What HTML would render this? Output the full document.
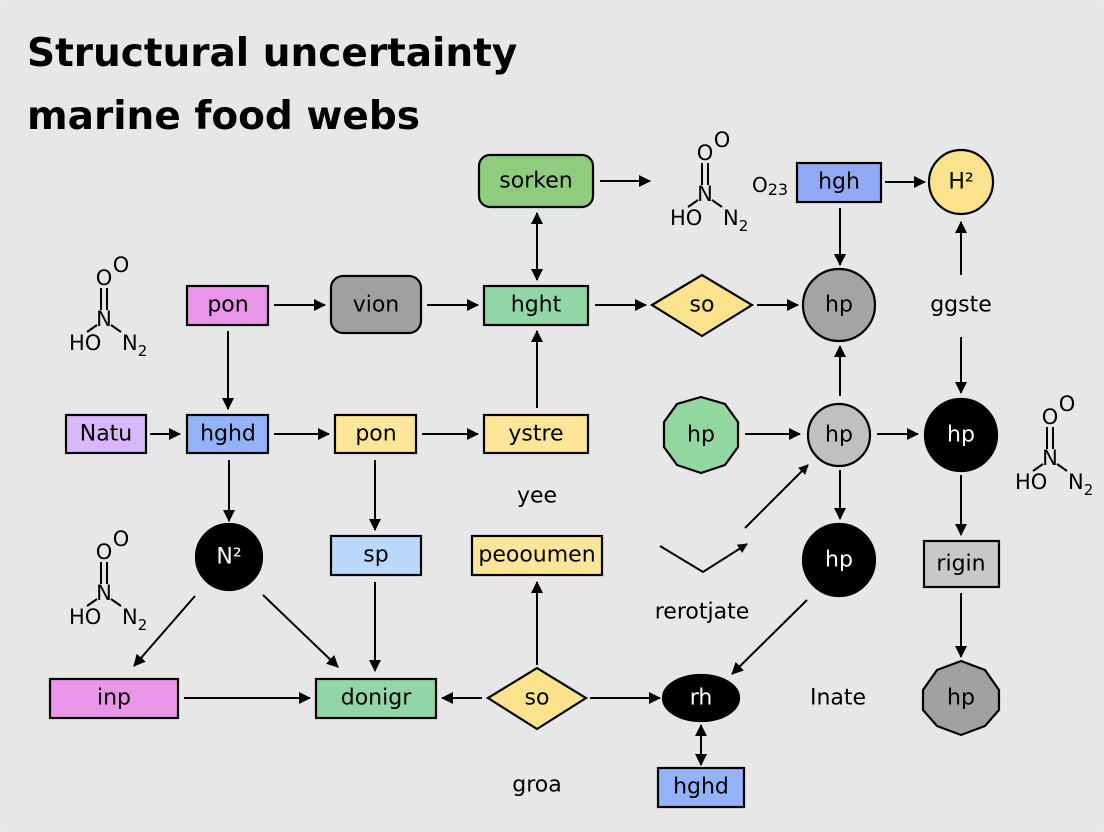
<!DOCTYPE html>
<html><head><meta charset="utf-8"><style>
html,body{margin:0;padding:0;background:#e8e8e9;}
svg{display:block;font-family:"DejaVu Sans","Liberation Sans",sans-serif;}
</style></head><body>
<svg width="1104" height="832" viewBox="0 0 1104 832" xmlns="http://www.w3.org/2000/svg">
<defs>
<marker id="a" markerWidth="10" markerHeight="10" refX="9" refY="5" orient="auto-start-reverse" markerUnits="userSpaceOnUse"><path d="M0,0 L10,5 L0,10 z" fill="#000"/></marker>
<marker id="b" markerWidth="12" markerHeight="12" refX="11" refY="6" orient="auto-start-reverse" markerUnits="userSpaceOnUse"><path d="M0,0 L12,6 L0,12 z" fill="#000"/></marker>
<g id="chem">
<text x="0" y="-33" font-size="21" text-anchor="middle">O</text>
<text x="17" y="-46" font-size="21" text-anchor="middle">O</text>
<line x1="-3" y1="-30" x2="-3" y2="-8" stroke="#000" stroke-width="2"/>
<line x1="3" y1="-30" x2="3" y2="-8" stroke="#000" stroke-width="2"/>
<text x="0" y="8" font-size="21" text-anchor="middle">N</text>
<line x1="-7" y1="7" x2="-17" y2="14" stroke="#000" stroke-width="2"/>
<line x1="7" y1="7" x2="17" y2="14" stroke="#000" stroke-width="2"/>
<text x="-35" y="32" font-size="21">HO</text>
<text x="18" y="32" font-size="21">N<tspan font-size="15" dy="6">2</tspan></text>
</g>
</defs>
<rect x="0" y="0" width="1104" height="832" rx="14" fill="#e7e7e8"/>
<text x="27" y="66" font-size="39" font-weight="bold">Structural uncertainty</text>
<text x="27" y="129" font-size="39" font-weight="bold">marine food webs</text>

<g stroke="#000" stroke-width="2" fill="none">
<line x1="600" y1="181" x2="650" y2="181" marker-end="url(#b)"/>
<line x1="885" y1="182" x2="925" y2="182" marker-end="url(#b)"/>
<line x1="274" y1="305" x2="325" y2="305" marker-end="url(#b)"/>
<line x1="427" y1="305" x2="478" y2="305" marker-end="url(#b)"/>
<line x1="537" y1="213" x2="537" y2="280" marker-start="url(#b)" marker-end="url(#b)"/>
<line x1="595" y1="305" x2="646" y2="305" marker-end="url(#b)"/>
<line x1="757" y1="305" x2="798" y2="305" marker-end="url(#b)"/>
<line x1="840" y1="208" x2="840" y2="265" marker-end="url(#b)"/>
<line x1="961" y1="275" x2="961" y2="222" marker-end="url(#b)"/>
<line x1="961" y1="337" x2="961" y2="393" marker-end="url(#b)"/>
<line x1="150" y1="434" x2="180" y2="434" marker-end="url(#b)"/>
<line x1="228" y1="331" x2="228" y2="409" marker-end="url(#b)"/>
<line x1="274" y1="434" x2="329" y2="434" marker-end="url(#b)"/>
<line x1="422" y1="434" x2="478" y2="434" marker-end="url(#b)"/>
<line x1="537" y1="408" x2="537" y2="331" marker-end="url(#b)"/>
<line x1="745" y1="434" x2="800" y2="434" marker-end="url(#b)"/>
<line x1="840" y1="396" x2="840" y2="346" marker-end="url(#b)"/>
<line x1="877" y1="434" x2="918" y2="434" marker-end="url(#b)"/>
<line x1="229" y1="460" x2="229" y2="521" marker-end="url(#b)"/>
<line x1="375" y1="460" x2="375" y2="530" marker-end="url(#b)"/>
<polyline points="660,546 703,572 747,544" marker-end="url(#a)"/>
<line x1="745" y1="528" x2="808" y2="465" marker-end="url(#a)"/>
<line x1="840" y1="470" x2="840" y2="519" marker-end="url(#b)"/>
<line x1="961" y1="475" x2="961" y2="535" marker-end="url(#b)"/>
<line x1="195" y1="596" x2="134" y2="666" marker-end="url(#b)"/>
<line x1="263" y1="595" x2="338" y2="667" marker-end="url(#b)"/>
<line x1="375" y1="582" x2="375" y2="671" marker-end="url(#b)"/>
<line x1="184" y1="698" x2="310" y2="698" marker-end="url(#b)"/>
<line x1="482" y1="698" x2="442" y2="698" marker-end="url(#b)"/>
<line x1="537" y1="665" x2="537" y2="582" marker-end="url(#b)"/>
<line x1="590" y1="698" x2="660" y2="698" marker-end="url(#b)"/>
<line x1="807" y1="600" x2="732" y2="674" marker-end="url(#b)"/>
<line x1="961" y1="593" x2="961" y2="657" marker-end="url(#b)"/>
<line x1="701" y1="725" x2="701" y2="765" marker-start="url(#b)" marker-end="url(#b)"/>
</g>

<g stroke="#000" stroke-width="2.2">
<rect x="479" y="155" width="114" height="52" rx="11" fill="#8fcc7e"/>
<rect x="797" y="163" width="84" height="39" fill="#90aaf5"/>
<circle cx="961" cy="182" r="32" fill="#fbe38e"/>
<rect x="187" y="286" width="81" height="39" fill="#e996e8"/>
<rect x="331" y="276" width="90" height="57" rx="12" fill="#a0a0a0"/>
<rect x="484" y="286" width="104" height="39" fill="#93d6a6"/>
<polygon points="652,305 702,275 752,305 702,336" fill="#fbe38e"/>
<circle cx="839" cy="305" r="36" fill="#a4a4a4"/>
<rect x="66" y="415" width="80" height="38" fill="#d8b8f8"/>
<rect x="187" y="415" width="81" height="38" fill="#94b2f8"/>
<rect x="335" y="415" width="81" height="38" fill="#fde69a"/>
<rect x="484" y="415" width="104" height="38" fill="#fde69a"/>
<polygon points="701,397 725,404 738,422 738,447 725,465 701,473 677,465 664,447 664,422 677,404" fill="#92d6a0"/>
<circle cx="839" cy="435" r="31" fill="#c0c0c0"/>
<circle cx="961" cy="435" r="36" fill="#000"/>
<ellipse cx="229" cy="557" rx="33" ry="33" fill="#000"/>
<rect x="331" y="536" width="90" height="39" fill="#b9d8fb"/>
<rect x="472" y="536" width="130" height="39" fill="#fde69a"/>
<circle cx="839" cy="560" r="36" fill="#000"/>
<rect x="924" y="541" width="75" height="46" fill="#c8c8c8"/>
<rect x="50" y="679" width="128" height="39" fill="#e996e8"/>
<rect x="316" y="679" width="120" height="39" fill="#93d6a6"/>
<polygon points="488,698 537,668 586,698 537,729" fill="#fbe38e"/>
<ellipse cx="701" cy="698" rx="38" ry="23" fill="#000"/>
<polygon points="961,661 985,670 999,690 999,710 985,726 961,735 937,726 923,710 923,690 937,670" fill="#a0a0a0"/>
<rect x="658" y="768" width="86" height="39" fill="#94b2f8"/>
</g>

<g font-size="22" text-anchor="middle" dominant-baseline="central" fill="#000">
<text x="536" y="181">sorken</text>
<text x="839" y="182">hgh</text>
<text x="961" y="182">H²</text>
<text x="228" y="305">pon</text>
<text x="376" y="305">vion</text>
<text x="536" y="305">hght</text>
<text x="702" y="305">so</text>
<text x="839" y="305">hp</text>
<text x="961" y="305">ggste</text>
<text x="106" y="434">Natu</text>
<text x="228" y="434">hghd</text>
<text x="376" y="434">pon</text>
<text x="536" y="434">ystre</text>
<text x="701" y="435">hp</text>
<text x="839" y="435">hp</text>
<text x="961" y="435" fill="#fff">hp</text>
<text x="537" y="496">yee</text>
<text x="229" y="557" fill="#fff">N²</text>
<text x="376" y="555">sp</text>
<text x="537" y="555">peooumen</text>
<text x="839" y="560" fill="#fff">hp</text>
<text x="961" y="564">rigin</text>
<text x="702" y="612">rerotjate</text>
<text x="114" y="698">inp</text>
<text x="376" y="698">donigr</text>
<text x="537" y="698">so</text>
<text x="701" y="698" fill="#fff">rh</text>
<text x="838" y="698">Inate</text>
<text x="961" y="698">hp</text>
<text x="701" y="787">hghd</text>
<text x="537" y="785">groa</text>
</g>
<text x="752" y="192" font-size="20">O<tspan font-size="16" dy="3">23</tspan></text>
<use href="#chem" transform="translate(104,318)"/>
<use href="#chem" transform="translate(705,193)"/>
<use href="#chem" transform="translate(104,592)"/>
<use href="#chem" transform="translate(1050,457)"/>
</svg>
</body></html>
